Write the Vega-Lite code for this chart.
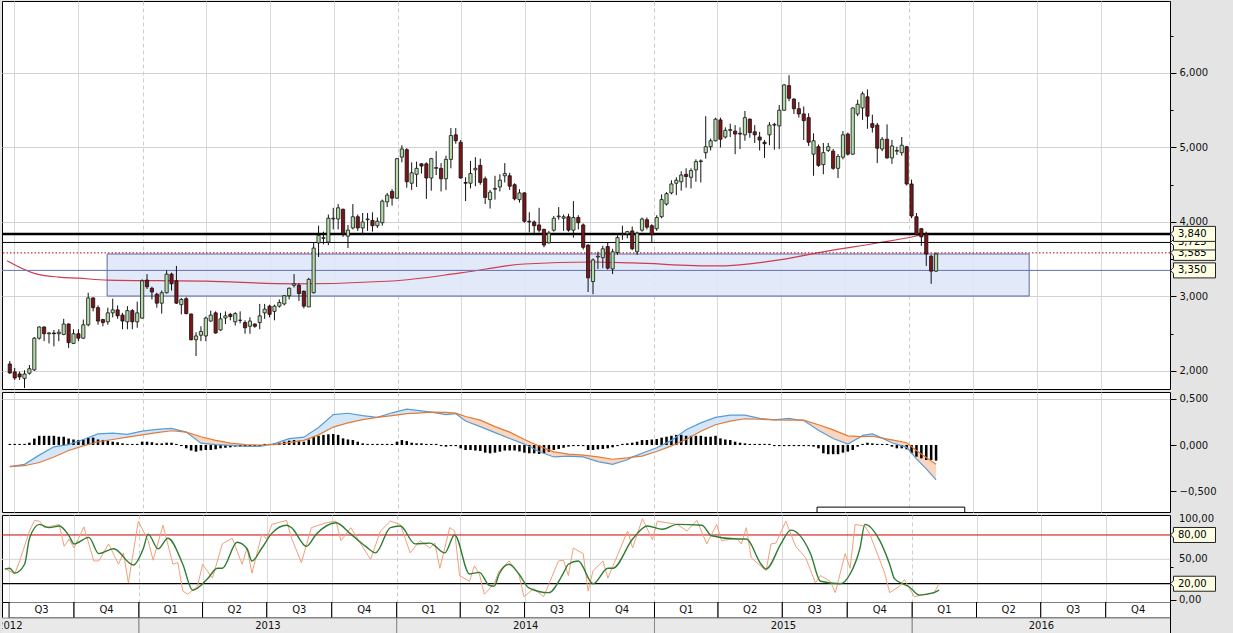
{
"$schema":"https://vega.github.io/schema/vega-lite/v6.json",
"background":"#e4e4e4",
"padding":{"left":0,"top":0,"right":19,"bottom":0},
"spacing":3,
"bounds":"flush",
"datasets":{
"candles":[
{"d":"2012-06-25","o":2.094,"h":2.135,"l":1.96,"c":1.973,"hist":0.012},
{"d":"2012-07-02","o":1.987,"h":2.04,"l":1.88,"c":1.906,"hist":0.012},
{"d":"2012-07-09","o":1.96,"h":1.99,"l":1.88,"c":1.92,"hist":0.012},
{"d":"2012-07-16","o":1.9,"h":2.01,"l":1.77,"c":1.96,"hist":0.012},
{"d":"2012-07-23","o":1.97,"h":2.08,"l":1.95,"c":2.03,"hist":0.025},
{"d":"2012-07-30","o":2.015,"h":2.455,"l":2.0,"c":2.44,"hist":0.07},
{"d":"2012-08-06","o":2.44,"h":2.6,"l":2.42,"c":2.59,"hist":0.1},
{"d":"2012-08-13","o":2.59,"h":2.6,"l":2.4,"c":2.5,"hist":0.1},
{"d":"2012-08-20","o":2.5,"h":2.52,"l":2.37,"c":2.51,"hist":0.1},
{"d":"2012-08-27","o":2.51,"h":2.55,"l":2.33,"c":2.5,"hist":0.1},
{"d":"2012-09-03","o":2.5,"h":2.56,"l":2.4,"c":2.52,"hist":0.09},
{"d":"2012-09-10","o":2.49,"h":2.7,"l":2.48,"c":2.63,"hist":0.09},
{"d":"2012-09-17","o":2.63,"h":2.64,"l":2.31,"c":2.38,"hist":0.07},
{"d":"2012-09-24","o":2.37,"h":2.56,"l":2.36,"c":2.5,"hist":0.06},
{"d":"2012-10-01","o":2.5,"h":2.56,"l":2.4,"c":2.44,"hist":0.055},
{"d":"2012-10-08","o":2.44,"h":2.69,"l":2.43,"c":2.62,"hist":0.06},
{"d":"2012-10-15","o":2.62,"h":3.05,"l":2.6,"c":2.98,"hist":0.08},
{"d":"2012-10-22","o":2.98,"h":2.99,"l":2.8,"c":2.85,"hist":0.08},
{"d":"2012-10-29","o":2.85,"h":2.88,"l":2.62,"c":2.67,"hist":0.06},
{"d":"2012-11-05","o":2.69,"h":2.7,"l":2.6,"c":2.65,"hist":0.055},
{"d":"2012-11-12","o":2.66,"h":2.85,"l":2.62,"c":2.78,"hist":0.047},
{"d":"2012-11-19","o":2.78,"h":2.97,"l":2.72,"c":2.82,"hist":0.036},
{"d":"2012-11-26","o":2.82,"h":2.88,"l":2.7,"c":2.74,"hist":0.03},
{"d":"2012-12-03","o":2.75,"h":2.78,"l":2.56,"c":2.67,"hist":0.018},
{"d":"2012-12-10","o":2.66,"h":2.87,"l":2.56,"c":2.81,"hist":0.012},
{"d":"2012-12-17","o":2.81,"h":2.83,"l":2.56,"c":2.66,"hist":0.012},
{"d":"2012-12-24","o":2.66,"h":2.93,"l":2.58,"c":2.78,"hist":0.012},
{"d":"2012-12-31","o":2.71,"h":3.23,"l":2.7,"c":3.21,"hist":0.036},
{"d":"2013-01-07","o":3.22,"h":3.3,"l":3.1,"c":3.13,"hist":0.036},
{"d":"2013-01-14","o":3.11,"h":3.13,"l":2.96,"c":3.06,"hist":0.03},
{"d":"2013-01-21","o":3.03,"h":3.05,"l":2.85,"c":2.91,"hist":0.018},
{"d":"2013-01-28","o":2.91,"h":3.08,"l":2.77,"c":3.05,"hist":0.018},
{"d":"2013-02-04","o":3.05,"h":3.35,"l":3.04,"c":3.3,"hist":0.025},
{"d":"2013-02-11","o":3.3,"h":3.32,"l":3.08,"c":3.17,"hist":0.025},
{"d":"2013-02-18","o":3.21,"h":3.41,"l":2.9,"c":2.91,"hist":0.012},
{"d":"2013-02-25","o":2.89,"h":2.98,"l":2.76,"c":2.96,"hist":-0.012},
{"d":"2013-03-04","o":2.97,"h":2.99,"l":2.76,"c":2.77,"hist":-0.036},
{"d":"2013-03-11","o":2.765,"h":2.77,"l":2.41,"c":2.42,"hist":-0.06},
{"d":"2013-03-18","o":2.42,"h":2.52,"l":2.2,"c":2.47,"hist":-0.072},
{"d":"2013-03-25","o":2.48,"h":2.6,"l":2.4,"c":2.53,"hist":-0.06},
{"d":"2013-04-01","o":2.47,"h":2.73,"l":2.4,"c":2.71,"hist":-0.054},
{"d":"2013-04-08","o":2.67,"h":2.81,"l":2.66,"c":2.75,"hist":-0.054},
{"d":"2013-04-15","o":2.78,"h":2.8,"l":2.5,"c":2.51,"hist":-0.047},
{"d":"2013-04-22","o":2.55,"h":2.78,"l":2.54,"c":2.7,"hist":-0.036},
{"d":"2013-04-29","o":2.71,"h":2.8,"l":2.63,"c":2.74,"hist":-0.03},
{"d":"2013-05-06","o":2.76,"h":2.78,"l":2.68,"c":2.73,"hist":-0.025},
{"d":"2013-05-13","o":2.66,"h":2.79,"l":2.61,"c":2.77,"hist":-0.018},
{"d":"2013-05-20","o":2.68,"h":2.8,"l":2.64,"c":2.68,"hist":-0.018},
{"d":"2013-05-27","o":2.65,"h":2.68,"l":2.5,"c":2.58,"hist":-0.018},
{"d":"2013-06-03","o":2.6,"h":2.72,"l":2.5,"c":2.67,"hist":-0.012},
{"d":"2013-06-10","o":2.63,"h":2.64,"l":2.58,"c":2.6,"hist":-0.012},
{"d":"2013-06-17","o":2.65,"h":2.9,"l":2.56,"c":2.74,"hist":-0.012},
{"d":"2013-06-24","o":2.78,"h":2.9,"l":2.7,"c":2.83,"hist":0.012},
{"d":"2013-07-01","o":2.87,"h":2.89,"l":2.72,"c":2.76,"hist":0.012},
{"d":"2013-07-08","o":2.8,"h":2.89,"l":2.68,"c":2.87,"hist":0.018},
{"d":"2013-07-15","o":2.87,"h":2.96,"l":2.85,"c":2.92,"hist":0.025},
{"d":"2013-07-22","o":2.9,"h":3.02,"l":2.88,"c":3.01,"hist":0.036},
{"d":"2013-07-29","o":3.01,"h":3.12,"l":2.96,"c":3.11,"hist":0.047},
{"d":"2013-08-05","o":3.15,"h":3.3,"l":3.12,"c":3.17,"hist":0.054},
{"d":"2013-08-12","o":3.15,"h":3.18,"l":2.94,"c":3.04,"hist":0.047},
{"d":"2013-08-19","o":3.07,"h":3.08,"l":2.84,"c":2.87,"hist":0.036},
{"d":"2013-08-26","o":2.86,"h":3.25,"l":2.86,"c":3.23,"hist":0.06},
{"d":"2013-09-02","o":3.05,"h":3.72,"l":3.04,"c":3.65,"hist":0.09},
{"d":"2013-09-09","o":3.72,"h":3.95,"l":3.53,"c":3.82,"hist":0.1},
{"d":"2013-09-16","o":3.78,"h":3.87,"l":3.7,"c":3.79,"hist":0.11},
{"d":"2013-09-23","o":3.73,"h":4.1,"l":3.69,"c":4.05,"hist":0.116},
{"d":"2013-09-30","o":4.04,"h":4.19,"l":3.9,"c":4.05,"hist":0.12},
{"d":"2013-10-07","o":4.04,"h":4.24,"l":3.9,"c":4.19,"hist":0.11},
{"d":"2013-10-14","o":4.17,"h":4.18,"l":3.8,"c":3.84,"hist":0.072},
{"d":"2013-10-21","o":3.81,"h":3.96,"l":3.65,"c":3.89,"hist":0.06},
{"d":"2013-10-28","o":3.92,"h":4.24,"l":3.9,"c":4.07,"hist":0.054},
{"d":"2013-11-04","o":4.07,"h":4.1,"l":3.88,"c":3.92,"hist":0.036},
{"d":"2013-11-11","o":3.92,"h":4.12,"l":3.85,"c":4.0,"hist":0.018},
{"d":"2013-11-18","o":4.03,"h":4.12,"l":3.88,"c":4.04,"hist":0.012},
{"d":"2013-11-25","o":4.02,"h":4.13,"l":3.87,"c":3.95,"hist":0.012},
{"d":"2013-12-02","o":3.95,"h":4.06,"l":3.92,"c":4.01,"hist":0.012},
{"d":"2013-12-09","o":3.99,"h":4.3,"l":3.95,"c":4.28,"hist":0.012},
{"d":"2013-12-16","o":4.27,"h":4.39,"l":4.2,"c":4.36,"hist":0.012},
{"d":"2013-12-23","o":4.41,"h":4.44,"l":4.22,"c":4.32,"hist":0.012},
{"d":"2013-12-30","o":4.32,"h":4.86,"l":4.31,"c":4.85,"hist":0.036},
{"d":"2014-01-06","o":4.87,"h":5.03,"l":4.8,"c":4.98,"hist":0.054},
{"d":"2014-01-13","o":4.97,"h":4.99,"l":4.46,"c":4.54,"hist":0.043},
{"d":"2014-01-20","o":4.52,"h":4.8,"l":4.43,"c":4.66,"hist":0.025},
{"d":"2014-01-27","o":4.64,"h":4.81,"l":4.47,"c":4.72,"hist":0.018},
{"d":"2014-02-03","o":4.78,"h":4.79,"l":4.65,"c":4.75,"hist":0.018},
{"d":"2014-02-10","o":4.78,"h":4.8,"l":4.31,"c":4.59,"hist":0.012},
{"d":"2014-02-17","o":4.59,"h":4.86,"l":4.42,"c":4.85,"hist":0.012},
{"d":"2014-02-24","o":4.72,"h":4.95,"l":4.63,"c":4.73,"hist":0.012},
{"d":"2014-03-03","o":4.72,"h":4.79,"l":4.41,"c":4.58,"hist":-0.012},
{"d":"2014-03-10","o":4.58,"h":4.89,"l":4.43,"c":4.84,"hist":-0.018},
{"d":"2014-03-17","o":4.84,"h":5.26,"l":4.72,"c":5.16,"hist":-0.012},
{"d":"2014-03-24","o":5.17,"h":5.26,"l":5.05,"c":5.09,"hist":-0.012},
{"d":"2014-03-31","o":5.07,"h":5.1,"l":4.58,"c":4.59,"hist":-0.036},
{"d":"2014-04-07","o":4.53,"h":4.6,"l":4.28,"c":4.52,"hist":-0.054},
{"d":"2014-04-14","o":4.52,"h":4.82,"l":4.45,"c":4.65,"hist":-0.054},
{"d":"2014-04-21","o":4.7,"h":4.87,"l":4.48,"c":4.72,"hist":-0.06},
{"d":"2014-04-28","o":4.76,"h":4.85,"l":4.5,"c":4.53,"hist":-0.065},
{"d":"2014-05-05","o":4.58,"h":4.61,"l":4.24,"c":4.33,"hist":-0.083},
{"d":"2014-05-12","o":4.3,"h":4.43,"l":4.18,"c":4.4,"hist":-0.09},
{"d":"2014-05-19","o":4.44,"h":4.62,"l":4.3,"c":4.45,"hist":-0.083},
{"d":"2014-05-26","o":4.47,"h":4.64,"l":4.41,"c":4.56,"hist":-0.072},
{"d":"2014-06-02","o":4.62,"h":4.79,"l":4.53,"c":4.65,"hist":-0.06},
{"d":"2014-06-09","o":4.62,"h":4.66,"l":4.43,"c":4.48,"hist":-0.06},
{"d":"2014-06-16","o":4.5,"h":4.52,"l":4.29,"c":4.31,"hist":-0.06},
{"d":"2014-06-23","o":4.3,"h":4.44,"l":4.26,"c":4.39,"hist":-0.07},
{"d":"2014-06-30","o":4.39,"h":4.4,"l":3.99,"c":4.01,"hist":-0.083},
{"d":"2014-07-07","o":4.01,"h":4.13,"l":3.86,"c":4.0,"hist":-0.09},
{"d":"2014-07-14","o":4.0,"h":4.02,"l":3.85,"c":3.95,"hist":-0.09},
{"d":"2014-07-21","o":3.96,"h":4.19,"l":3.86,"c":3.89,"hist":-0.098},
{"d":"2014-07-28","o":3.9,"h":3.91,"l":3.66,"c":3.69,"hist":-0.09},
{"d":"2014-08-04","o":3.72,"h":3.88,"l":3.71,"c":3.85,"hist":-0.072},
{"d":"2014-08-11","o":3.89,"h":4.08,"l":3.87,"c":4.05,"hist":-0.054},
{"d":"2014-08-18","o":4.07,"h":4.2,"l":4.03,"c":4.08,"hist":-0.043},
{"d":"2014-08-25","o":4.05,"h":4.1,"l":3.88,"c":4.07,"hist":-0.03},
{"d":"2014-09-01","o":4.07,"h":4.11,"l":3.87,"c":3.89,"hist":-0.018},
{"d":"2014-09-08","o":3.89,"h":4.28,"l":3.79,"c":4.06,"hist":-0.012},
{"d":"2014-09-15","o":4.06,"h":4.09,"l":3.9,"c":3.99,"hist":-0.012},
{"d":"2014-09-22","o":3.96,"h":3.98,"l":3.63,"c":3.66,"hist":-0.012},
{"d":"2014-09-29","o":3.69,"h":3.7,"l":3.06,"c":3.25,"hist":-0.054},
{"d":"2014-10-06","o":3.2,"h":3.51,"l":3.03,"c":3.49,"hist":-0.054},
{"d":"2014-10-13","o":3.53,"h":3.6,"l":3.37,"c":3.54,"hist":-0.047},
{"d":"2014-10-20","o":3.52,"h":3.68,"l":3.38,"c":3.64,"hist":-0.043},
{"d":"2014-10-27","o":3.67,"h":3.72,"l":3.36,"c":3.38,"hist":-0.036},
{"d":"2014-11-03","o":3.37,"h":3.64,"l":3.3,"c":3.6,"hist":-0.025},
{"d":"2014-11-10","o":3.59,"h":3.82,"l":3.56,"c":3.79,"hist":-0.012},
{"d":"2014-11-17","o":3.83,"h":3.95,"l":3.76,"c":3.84,"hist":0.012},
{"d":"2014-11-24","o":3.84,"h":3.88,"l":3.78,"c":3.87,"hist":0.018},
{"d":"2014-12-01","o":3.88,"h":3.94,"l":3.62,"c":3.64,"hist":0.025},
{"d":"2014-12-08","o":3.6,"h":3.87,"l":3.56,"c":3.85,"hist":0.036},
{"d":"2014-12-15","o":3.89,"h":4.06,"l":3.87,"c":4.04,"hist":0.054},
{"d":"2014-12-22","o":4.03,"h":4.06,"l":3.9,"c":3.93,"hist":0.054},
{"d":"2014-12-29","o":3.95,"h":3.97,"l":3.72,"c":3.83,"hist":0.06},
{"d":"2015-01-05","o":3.91,"h":4.09,"l":3.88,"c":4.06,"hist":0.065},
{"d":"2015-01-12","o":4.07,"h":4.37,"l":4.05,"c":4.3,"hist":0.08},
{"d":"2015-01-19","o":4.24,"h":4.4,"l":4.22,"c":4.38,"hist":0.09},
{"d":"2015-01-26","o":4.39,"h":4.56,"l":4.37,"c":4.51,"hist":0.1},
{"d":"2015-02-02","o":4.52,"h":4.6,"l":4.36,"c":4.56,"hist":0.11},
{"d":"2015-02-09","o":4.54,"h":4.68,"l":4.42,"c":4.63,"hist":0.11},
{"d":"2015-02-16","o":4.64,"h":4.72,"l":4.46,"c":4.61,"hist":0.1},
{"d":"2015-02-23","o":4.6,"h":4.72,"l":4.45,"c":4.69,"hist":0.1},
{"d":"2015-03-02","o":4.7,"h":4.84,"l":4.54,"c":4.81,"hist":0.1},
{"d":"2015-03-09","o":4.81,"h":4.84,"l":4.53,"c":4.82,"hist":0.1},
{"d":"2015-03-16","o":4.93,"h":5.42,"l":4.85,"c":5.01,"hist":0.09},
{"d":"2015-03-23","o":5.01,"h":5.12,"l":4.96,"c":5.09,"hist":0.09},
{"d":"2015-03-30","o":5.09,"h":5.4,"l":5.08,"c":5.38,"hist":0.1},
{"d":"2015-04-06","o":5.37,"h":5.4,"l":5.0,"c":5.11,"hist":0.072},
{"d":"2015-04-13","o":5.14,"h":5.27,"l":5.12,"c":5.23,"hist":0.06},
{"d":"2015-04-20","o":5.23,"h":5.32,"l":5.14,"c":5.24,"hist":0.054},
{"d":"2015-04-27","o":5.22,"h":5.3,"l":4.91,"c":5.18,"hist":0.036},
{"d":"2015-05-04","o":5.19,"h":5.27,"l":4.98,"c":5.18,"hist":0.025},
{"d":"2015-05-11","o":5.17,"h":5.49,"l":5.09,"c":5.4,"hist":0.018},
{"d":"2015-05-18","o":5.38,"h":5.39,"l":5.13,"c":5.2,"hist":0.012},
{"d":"2015-05-25","o":5.21,"h":5.3,"l":5.06,"c":5.17,"hist":0.012},
{"d":"2015-06-01","o":5.14,"h":5.21,"l":4.96,"c":5.1,"hist":0.012},
{"d":"2015-06-08","o":5.07,"h":5.1,"l":4.86,"c":5.05,"hist":0.012},
{"d":"2015-06-15","o":5.17,"h":5.34,"l":5.03,"c":5.3,"hist":0.012},
{"d":"2015-06-22","o":5.3,"h":5.33,"l":4.97,"c":5.31,"hist":-0.012},
{"d":"2015-06-29","o":5.29,"h":5.57,"l":4.98,"c":5.5,"hist":-0.012},
{"d":"2015-07-06","o":5.5,"h":5.85,"l":5.49,"c":5.84,"hist":-0.012},
{"d":"2015-07-13","o":5.83,"h":5.97,"l":5.62,"c":5.66,"hist":-0.012},
{"d":"2015-07-20","o":5.65,"h":5.66,"l":5.45,"c":5.52,"hist":-0.012},
{"d":"2015-07-27","o":5.52,"h":5.61,"l":5.4,"c":5.45,"hist":-0.012},
{"d":"2015-08-03","o":5.45,"h":5.55,"l":5.1,"c":5.36,"hist":-0.012},
{"d":"2015-08-10","o":5.4,"h":5.46,"l":5.02,"c":5.07,"hist":-0.012},
{"d":"2015-08-17","o":4.91,"h":5.19,"l":4.62,"c":5.09,"hist":-0.018},
{"d":"2015-08-24","o":5.01,"h":5.04,"l":4.74,"c":4.76,"hist":-0.036},
{"d":"2015-08-31","o":4.77,"h":5.06,"l":4.64,"c":4.93,"hist":-0.09},
{"d":"2015-09-07","o":4.96,"h":5.06,"l":4.94,"c":5.01,"hist":-0.1},
{"d":"2015-09-14","o":4.95,"h":4.98,"l":4.7,"c":4.72,"hist":-0.1},
{"d":"2015-09-21","o":4.72,"h":4.91,"l":4.59,"c":4.88,"hist":-0.1},
{"d":"2015-09-28","o":4.87,"h":5.22,"l":4.84,"c":5.17,"hist":-0.083},
{"d":"2015-10-05","o":5.18,"h":5.2,"l":4.89,"c":4.91,"hist":-0.072},
{"d":"2015-10-12","o":4.91,"h":5.54,"l":4.9,"c":5.53,"hist":-0.054},
{"d":"2015-10-19","o":5.45,"h":5.64,"l":5.42,"c":5.58,"hist":-0.018},
{"d":"2015-10-26","o":5.53,"h":5.75,"l":5.37,"c":5.72,"hist":0.012},
{"d":"2015-11-02","o":5.68,"h":5.78,"l":5.25,"c":5.42,"hist":0.025},
{"d":"2015-11-09","o":5.32,"h":5.44,"l":5.2,"c":5.27,"hist":0.018},
{"d":"2015-11-16","o":5.3,"h":5.33,"l":4.79,"c":4.99,"hist":0.012},
{"d":"2015-11-23","o":4.98,"h":5.14,"l":4.95,"c":5.11,"hist":0.012},
{"d":"2015-11-30","o":5.11,"h":5.31,"l":4.85,"c":4.86,"hist":0.012},
{"d":"2015-12-07","o":4.86,"h":5.1,"l":4.78,"c":5.02,"hist":-0.018},
{"d":"2015-12-14","o":4.95,"h":5.01,"l":4.9,"c":4.96,"hist":-0.036},
{"d":"2015-12-21","o":4.93,"h":5.14,"l":4.89,"c":5.03,"hist":-0.036},
{"d":"2015-12-28","o":5.01,"h":5.02,"l":4.49,"c":4.51,"hist":-0.047},
{"d":"2016-01-04","o":4.51,"h":4.57,"l":4.05,"c":4.08,"hist":-0.09},
{"d":"2016-01-11","o":4.07,"h":4.12,"l":3.82,"c":3.83,"hist":-0.127},
{"d":"2016-01-18","o":3.91,"h":3.92,"l":3.68,"c":3.8,"hist":-0.145},
{"d":"2016-01-25","o":3.84,"h":3.87,"l":3.41,"c":3.57,"hist":-0.163},
{"d":"2016-02-01","o":3.54,"h":3.56,"l":3.17,"c":3.34,"hist":-0.163},
{"d":"2016-02-08","o":3.34,"h":3.59,"l":3.33,"c":3.57,"hist":-0.17}
],
"ma":[
{"d":"2012-06-21","v":3.48},{"d":"2012-07-30","v":3.31},{"d":"2012-09-03","v":3.26},{"d":"2012-10-01","v":3.245},
{"d":"2012-11-12","v":3.22},{"d":"2013-04-01","v":3.205},{"d":"2013-08-05","v":3.17},{"d":"2013-12-23","v":3.208},
{"d":"2014-03-31","v":3.316},{"d":"2014-06-30","v":3.436},{"d":"2014-10-06","v":3.463},{"d":"2014-12-01","v":3.45},
{"d":"2015-03-30","v":3.41},{"d":"2015-06-29","v":3.49},{"d":"2015-09-07","v":3.611},{"d":"2015-11-16","v":3.718},
{"d":"2016-01-11","v":3.812},{"d":"2016-01-25","v":3.84}
],
"zone":[{"s":"2012-11-11","e":"2016-06-20","lo":3.006,"hi":3.57}],
"lv":[{"v":3.35,"label":"3,350"},{"v":3.585,"label":"3,585"},{"v":3.725,"label":"3,725"},{"v":3.84,"label":"3,840"}],
"slv":[{"v":20,"label":"20,00"},{"v":80,"label":"80,00"}],
"stl":[{"v":0,"label":"0,00"},{"v":50,"label":"50,00"},{"v":100,"label":"100,00"}],
"mbox":[{"s":"2015-08-22","e":"2016-03-20","lo":-0.9,"hi":-0.675}],
"macd":[
{"d":"2012-06-25","m":-0.235,"s":-0.235,"g":1,"c":"up"},
{"d":"2012-07-16","m":-0.21,"s":-0.225,"g":1,"c":"up"},
{"d":"2012-08-06","m":-0.11,"s":-0.19,"g":1,"c":"up"},
{"d":"2012-08-27","m":-0.02,"s":-0.13,"g":1,"c":"up"},
{"d":"2012-09-17","m":0.005,"s":-0.06,"g":1,"c":"up"},
{"d":"2012-10-08","m":0.06,"s":-0.01,"g":1,"c":"up"},
{"d":"2012-10-29","m":0.12,"s":0.035,"g":1,"c":"up"},
{"d":"2012-11-19","m":0.13,"s":0.06,"g":1,"c":"up"},
{"d":"2012-12-10","m":0.115,"s":0.085,"g":1,"c":"up"},
{"d":"2012-12-31","m":0.15,"s":0.11,"g":1,"c":"up"},
{"d":"2013-01-21","m":0.17,"s":0.135,"g":1,"c":"up"},
{"d":"2013-02-11","m":0.18,"s":0.155,"g":1,"c":"up"},
{"d":"2013-03-04","m":0.14,"s":0.14,"g":1,"c":"up"},
{"d":"2013-03-04","m":0.14,"s":0.14,"g":2,"c":"dn"},
{"d":"2013-03-25","m":0.02,"s":0.09,"g":2,"c":"dn"},
{"d":"2013-04-15","m":0.005,"s":0.05,"g":2,"c":"dn"},
{"d":"2013-05-06","m":-0.005,"s":0.02,"g":2,"c":"dn"},
{"d":"2013-05-27","m":-0.015,"s":0.005,"g":2,"c":"dn"},
{"d":"2013-06-17","m":-0.015,"s":0.0,"g":2,"c":"dn"},
{"d":"2013-07-01","m":0.003,"s":0.003,"g":2,"c":"dn"},
{"d":"2013-07-01","m":0.003,"s":0.003,"g":3,"c":"up"},
{"d":"2013-07-08","m":0.015,"s":0.005,"g":3,"c":"up"},
{"d":"2013-07-29","m":0.07,"s":0.025,"g":3,"c":"up"},
{"d":"2013-08-19","m":0.085,"s":0.05,"g":3,"c":"up"},
{"d":"2013-09-09","m":0.19,"s":0.11,"g":3,"c":"up"},
{"d":"2013-09-30","m":0.33,"s":0.195,"g":3,"c":"up"},
{"d":"2013-10-21","m":0.345,"s":0.24,"g":3,"c":"up"},
{"d":"2013-11-11","m":0.32,"s":0.275,"g":3,"c":"up"},
{"d":"2013-12-02","m":0.3,"s":0.3,"g":3,"c":"up"},
{"d":"2013-12-23","m":0.35,"s":0.32,"g":3,"c":"up"},
{"d":"2014-01-13","m":0.39,"s":0.34,"g":3,"c":"up"},
{"d":"2014-02-03","m":0.37,"s":0.35,"g":3,"c":"up"},
{"d":"2014-02-17","m":0.357,"s":0.357,"g":3,"c":"up"},
{"d":"2014-02-17","m":0.357,"s":0.357,"g":4,"c":"dn"},
{"d":"2014-03-10","m":0.33,"s":0.355,"g":4,"c":"dn"},
{"d":"2014-03-24","m":0.34,"s":0.347,"g":4,"c":"dn"},
{"d":"2014-04-07","m":0.26,"s":0.31,"g":4,"c":"dn"},
{"d":"2014-04-28","m":0.2,"s":0.27,"g":4,"c":"dn"},
{"d":"2014-05-19","m":0.135,"s":0.2,"g":4,"c":"dn"},
{"d":"2014-06-09","m":0.07,"s":0.14,"g":4,"c":"dn"},
{"d":"2014-06-30","m":0.01,"s":0.06,"g":4,"c":"dn"},
{"d":"2014-07-21","m":-0.07,"s":-0.01,"g":4,"c":"dn"},
{"d":"2014-08-11","m":-0.13,"s":-0.075,"g":4,"c":"dn"},
{"d":"2014-09-01","m":-0.12,"s":-0.1,"g":4,"c":"dn"},
{"d":"2014-09-22","m":-0.13,"s":-0.11,"g":4,"c":"dn"},
{"d":"2014-10-13","m":-0.18,"s":-0.13,"g":4,"c":"dn"},
{"d":"2014-11-03","m":-0.21,"s":-0.155,"g":4,"c":"dn"},
{"d":"2014-11-24","m":-0.16,"s":-0.14,"g":4,"c":"dn"},
{"d":"2014-12-01","m":-0.132,"s":-0.132,"g":4,"c":"dn"},
{"d":"2014-12-01","m":-0.132,"s":-0.132,"g":5,"c":"up"},
{"d":"2014-12-15","m":-0.09,"s":-0.12,"g":5,"c":"up"},
{"d":"2015-01-05","m":-0.03,"s":-0.07,"g":5,"c":"up"},
{"d":"2015-01-26","m":0.05,"s":-0.01,"g":5,"c":"up"},
{"d":"2015-02-16","m":0.165,"s":0.06,"g":5,"c":"up"},
{"d":"2015-03-09","m":0.24,"s":0.15,"g":5,"c":"up"},
{"d":"2015-03-30","m":0.3,"s":0.22,"g":5,"c":"up"},
{"d":"2015-04-20","m":0.325,"s":0.26,"g":5,"c":"up"},
{"d":"2015-05-11","m":0.325,"s":0.285,"g":5,"c":"up"},
{"d":"2015-06-01","m":0.29,"s":0.28,"g":5,"c":"up"},
{"d":"2015-06-22","m":0.273,"s":0.273,"g":5,"c":"up"},
{"d":"2015-07-13","m":0.29,"s":0.27,"g":5,"c":"up"},
{"d":"2015-07-27","m":0.272,"s":0.272,"g":5,"c":"up"},
{"d":"2015-07-27","m":0.272,"s":0.272,"g":6,"c":"dn"},
{"d":"2015-08-03","m":0.265,"s":0.27,"g":6,"c":"dn"},
{"d":"2015-08-24","m":0.16,"s":0.22,"g":6,"c":"dn"},
{"d":"2015-09-14","m":0.07,"s":0.165,"g":6,"c":"dn"},
{"d":"2015-10-05","m":0.01,"s":0.1,"g":6,"c":"dn"},
{"d":"2015-10-24","m":0.092,"s":0.092,"g":6,"c":"dn"},
{"d":"2015-10-24","m":0.092,"s":0.092,"g":7,"c":"up"},
{"d":"2015-10-26","m":0.105,"s":0.092,"g":7,"c":"up"},
{"d":"2015-11-09","m":0.12,"s":0.095,"g":7,"c":"up"},
{"d":"2015-11-23","m":0.075,"s":0.075,"g":7,"c":"up"},
{"d":"2015-11-23","m":0.075,"s":0.075,"g":8,"c":"dn"},
{"d":"2015-12-07","m":0.025,"s":0.055,"g":8,"c":"dn"},
{"d":"2015-12-28","m":-0.025,"s":0.025,"g":8,"c":"dn"},
{"d":"2016-01-11","m":-0.15,"s":-0.06,"g":8,"c":"dn"},
{"d":"2016-01-25","m":-0.26,"s":-0.135,"g":8,"c":"dn"},
{"d":"2016-02-08","m":-0.38,"s":-0.21,"g":8,"c":"dn"}
],
"stK":[
{"d":"2012-06-25","v":39},{"d":"2012-07-09","v":32},{"d":"2012-07-16","v":48},{"d":"2012-07-30","v":85},{"d":"2012-08-06","v":98},
{"d":"2012-08-13","v":97},{"d":"2012-08-20","v":89},{"d":"2012-09-10","v":93},{"d":"2012-09-17","v":66},{"d":"2012-09-24","v":75},
{"d":"2012-10-01","v":64},{"d":"2012-10-15","v":90},{"d":"2012-10-29","v":48},{"d":"2012-11-05","v":48},{"d":"2012-11-19","v":69},
{"d":"2012-12-03","v":44},{"d":"2012-12-10","v":58},{"d":"2012-12-17","v":21},{"d":"2012-12-31","v":97},{"d":"2013-01-14","v":73},
{"d":"2013-01-21","v":49},{"d":"2013-02-04","v":92},{"d":"2013-02-18","v":44},{"d":"2013-02-25","v":46},{"d":"2013-03-04","v":11},
{"d":"2013-03-11","v":7},{"d":"2013-03-25","v":17},{"d":"2013-04-01","v":44},{"d":"2013-04-15","v":27},{"d":"2013-04-29","v":69},
{"d":"2013-05-13","v":76},{"d":"2013-05-27","v":44},{"d":"2013-06-03","v":64},{"d":"2013-06-10","v":33},{"d":"2013-06-24","v":81},
{"d":"2013-07-01","v":75},{"d":"2013-07-08","v":93},{"d":"2013-07-29","v":98},{"d":"2013-08-05","v":76},{"d":"2013-08-19","v":46},
{"d":"2013-09-02","v":89},{"d":"2013-09-23","v":95},{"d":"2013-10-07","v":97},{"d":"2013-10-14","v":73},{"d":"2013-10-28","v":89},
{"d":"2013-11-11","v":69},{"d":"2013-11-25","v":50},{"d":"2013-12-09","v":85},{"d":"2013-12-23","v":97},{"d":"2014-01-06","v":93},
{"d":"2014-01-20","v":58},{"d":"2014-02-03","v":73},{"d":"2014-02-17","v":64},{"d":"2014-02-24","v":70},{"d":"2014-03-03","v":39},
{"d":"2014-03-17","v":89},{"d":"2014-03-24","v":85},{"d":"2014-03-31","v":30},{"d":"2014-04-14","v":23},{"d":"2014-04-21","v":42},
{"d":"2014-04-28","v":32},{"d":"2014-05-05","v":7},{"d":"2014-05-19","v":20},{"d":"2014-05-26","v":36},{"d":"2014-06-09","v":48},
{"d":"2014-06-23","v":32},{"d":"2014-06-30","v":4},{"d":"2014-07-14","v":14},{"d":"2014-07-28","v":4},{"d":"2014-08-18","v":48},
{"d":"2014-08-25","v":49},{"d":"2014-09-01","v":30},{"d":"2014-09-08","v":64},{"d":"2014-09-22","v":57},{"d":"2014-09-29","v":11},
{"d":"2014-10-06","v":36},{"d":"2014-10-20","v":48},{"d":"2014-10-27","v":27},{"d":"2014-11-24","v":85},{"d":"2014-12-01","v":64},
{"d":"2014-12-15","v":100},{"d":"2014-12-29","v":74},{"d":"2015-01-05","v":97},{"d":"2015-02-02","v":93},{"d":"2015-02-16","v":85},
{"d":"2015-03-02","v":98},{"d":"2015-03-16","v":69},{"d":"2015-03-30","v":93},{"d":"2015-04-06","v":73},{"d":"2015-04-27","v":76},
{"d":"2015-05-04","v":69},{"d":"2015-05-11","v":89},{"d":"2015-05-18","v":52},{"d":"2015-06-08","v":36},{"d":"2015-06-15","v":69},
{"d":"2015-06-22","v":70},{"d":"2015-07-06","v":97},{"d":"2015-07-20","v":66},{"d":"2015-08-03","v":52},{"d":"2015-08-17","v":21},
{"d":"2015-08-24","v":30},{"d":"2015-09-07","v":23},{"d":"2015-09-14","v":9},{"d":"2015-09-28","v":57},{"d":"2015-10-05","v":39},
{"d":"2015-10-12","v":93},{"d":"2015-10-26","v":91},{"d":"2015-11-02","v":81},{"d":"2015-11-23","v":33},{"d":"2015-11-30","v":9},
{"d":"2015-12-14","v":17},{"d":"2015-12-21","v":25},{"d":"2016-01-04","v":4},{"d":"2016-01-18","v":7},{"d":"2016-02-01","v":9},
{"d":"2016-02-08","v":20}
],
"stD":[
{"d":"2012-06-25","v":38},{"d":"2012-07-02","v":39},{"d":"2012-07-09","v":33},{"d":"2012-07-23","v":44},{"d":"2012-07-30","v":76},
{"d":"2012-08-13","v":93},{"d":"2012-08-27","v":89},{"d":"2012-09-10","v":91},{"d":"2012-09-24","v":79},{"d":"2012-10-01","v":69},
{"d":"2012-10-22","v":77},{"d":"2012-11-05","v":57},{"d":"2012-11-26","v":63},{"d":"2012-12-24","v":43},{"d":"2013-01-07","v":63},
{"d":"2013-01-14","v":81},{"d":"2013-01-28","v":63},{"d":"2013-02-11","v":76},{"d":"2013-03-04","v":44},{"d":"2013-03-18","v":12},
{"d":"2013-04-08","v":26},{"d":"2013-04-22","v":39},{"d":"2013-04-29","v":39},{"d":"2013-05-20","v":71},{"d":"2013-06-03","v":63},
{"d":"2013-06-10","v":48},{"d":"2013-06-24","v":64},{"d":"2013-07-08","v":82},{"d":"2013-07-29","v":92},{"d":"2013-08-05","v":89},
{"d":"2013-08-26","v":66},{"d":"2013-09-09","v":81},{"d":"2013-10-07","v":95},{"d":"2013-10-28","v":81},{"d":"2013-11-18","v":66},
{"d":"2013-12-02","v":58},{"d":"2013-12-23","v":89},{"d":"2014-01-06","v":91},{"d":"2014-01-27","v":69},{"d":"2014-02-17","v":70},
{"d":"2014-03-10","v":58},{"d":"2014-03-24","v":80},{"d":"2014-04-14","v":32},{"d":"2014-04-28","v":34},{"d":"2014-05-12","v":18},
{"d":"2014-05-19","v":17},{"d":"2014-05-26","v":32},{"d":"2014-06-09","v":44},{"d":"2014-06-23","v":32},{"d":"2014-07-07","v":15},
{"d":"2014-08-04","v":9},{"d":"2014-08-25","v":33},{"d":"2014-09-01","v":44},{"d":"2014-09-15","v":48},{"d":"2014-10-06","v":20},
{"d":"2014-10-27","v":39},{"d":"2014-11-03","v":39},{"d":"2014-12-01","v":75},{"d":"2014-12-22","v":91},{"d":"2015-01-12","v":87},
{"d":"2015-02-02","v":93},{"d":"2015-03-09","v":92},{"d":"2015-03-23","v":79},{"d":"2015-04-27","v":75},{"d":"2015-05-11","v":75},
{"d":"2015-06-01","v":44},{"d":"2015-06-08","v":38},{"d":"2015-06-29","v":69},{"d":"2015-07-13","v":86},{"d":"2015-08-10","v":57},
{"d":"2015-08-24","v":23},{"d":"2015-09-21","v":20},{"d":"2015-10-05","v":32},{"d":"2015-10-19","v":64},{"d":"2015-10-26","v":93},
{"d":"2015-11-16","v":73},{"d":"2015-11-30","v":44},{"d":"2015-12-07","v":26},{"d":"2015-12-28","v":16},{"d":"2016-01-11","v":6},
{"d":"2016-02-01","v":9},{"d":"2016-02-08","v":12}
],
"tl":[
{"s":"2012-07-01","e":"2012-10-01","t":"Q3","r":"q"},{"s":"2012-10-01","e":"2013-01-01","t":"Q4","r":"q"},
{"s":"2013-01-01","e":"2013-04-01","t":"Q1","r":"q"},{"s":"2013-04-01","e":"2013-07-01","t":"Q2","r":"q"},{"s":"2013-07-01","e":"2013-10-01","t":"Q3","r":"q"},{"s":"2013-10-01","e":"2014-01-01","t":"Q4","r":"q"},
{"s":"2014-01-01","e":"2014-04-01","t":"Q1","r":"q"},{"s":"2014-04-01","e":"2014-07-01","t":"Q2","r":"q"},{"s":"2014-07-01","e":"2014-10-01","t":"Q3","r":"q"},{"s":"2014-10-01","e":"2015-01-01","t":"Q4","r":"q"},
{"s":"2015-01-01","e":"2015-04-01","t":"Q1","r":"q"},{"s":"2015-04-01","e":"2015-07-01","t":"Q2","r":"q"},{"s":"2015-07-01","e":"2015-10-01","t":"Q3","r":"q"},{"s":"2015-10-01","e":"2016-01-01","t":"Q4","r":"q"},
{"s":"2016-01-01","e":"2016-04-01","t":"Q1","r":"q"},{"s":"2016-04-01","e":"2016-07-01","t":"Q2","r":"q"},{"s":"2016-07-01","e":"2016-10-01","t":"Q3","r":"q"},{"s":"2016-10-01","e":"2017-01-01","t":"Q4","r":"q"},
{"s":"2012-01-01","e":"2013-01-01","t":"2012","r":"y"},{"s":"2013-01-01","e":"2014-01-01","t":"2013","r":"y"},{"s":"2014-01-01","e":"2015-01-01","t":"2014","r":"y"},
{"s":"2015-01-01","e":"2016-01-01","t":"2015","r":"y"},{"s":"2016-01-01","e":"2017-01-01","t":"2016","r":"y"}
]
},
"resolve":{"scale":{"x":"independent","y":"independent","color":"independent","fill":"independent"}},
"vconcat":[
{
"width":1168,"height":388,
"layer":[
{"data":{"name":"zone"},"mark":{"type":"rect","fill":"#dde5f8","fillOpacity":0.85,"stroke":"#5a68a8","strokeWidth":1,"clip":true},
 "encoding":{
  "x":{"field":"s","type":"temporal","title":null,"scale":{"type":"utc","domain":[{"year":2012,"month":6,"date":21,"utc":true},{"year":2016,"month":12,"date":31,"utc":true}]},
   "axis":{"title":null,"labels":false,"ticks":false,"domain":false,"grid":true,"gridColor":"#cdcdcd",
    "gridDash":{"condition":{"test":"utcmonth(datum.value) == 0","value":[4,3]},"value":[1,0]},
    "values":[{"year":2012,"month":7,"date":1,"utc":true},{"year":2012,"month":10,"date":1,"utc":true},{"year":2013,"month":1,"date":1,"utc":true},{"year":2013,"month":4,"date":1,"utc":true},{"year":2013,"month":7,"date":1,"utc":true},{"year":2013,"month":10,"date":1,"utc":true},{"year":2014,"month":1,"date":1,"utc":true},{"year":2014,"month":4,"date":1,"utc":true},{"year":2014,"month":7,"date":1,"utc":true},{"year":2014,"month":10,"date":1,"utc":true},{"year":2015,"month":1,"date":1,"utc":true},{"year":2015,"month":4,"date":1,"utc":true},{"year":2015,"month":7,"date":1,"utc":true},{"year":2015,"month":10,"date":1,"utc":true},{"year":2016,"month":1,"date":1,"utc":true},{"year":2016,"month":4,"date":1,"utc":true},{"year":2016,"month":7,"date":1,"utc":true},{"year":2016,"month":10,"date":1,"utc":true}]}},
  "x2":{"field":"e"},
  "y":{"field":"lo","type":"quantitative","title":null,"scale":{"domain":[1.758,6.966],"nice":false,"zero":false},
   "axis":{"orient":"right","title":null,"values":[2,2.5,3,3.5,4,4.5,5,5.5,6,6.5],"labelOverlap":false,
    "labelExpr":"datum.value % 1 == 0 ? replace(format(datum.value, '.3f'), '.', ',') : ''",
    "tickSize":{"condition":{"test":"datum.value % 1 == 0","value":6},"value":3},
    "grid":true,"gridColor":"#d2d2d2",
    "gridOpacity":{"condition":{"test":"datum.value % 1 == 0","value":1},"value":0},
    "labelPadding":3}},
  "y2":{"field":"hi"}}},
{"data":{"name":"ma"},"mark":{"type":"line","color":"#cc3d4f","strokeWidth":1.2,"interpolate":"monotone","clip":true},
 "encoding":{"x":{"field":"d","type":"temporal"},"y":{"field":"v","type":"quantitative"}}},
{"data":{"name":"lv"},"transform":[{"filter":"datum.label == '3,350'"}],"mark":{"type":"rule","color":"#6470b0","strokeWidth":1},"encoding":{"y":{"field":"v","type":"quantitative"}}},
{"data":{"name":"lv"},"transform":[{"filter":"datum.label == '3,585'"}],"mark":{"type":"rule","color":"#c00000","strokeWidth":1,"strokeDash":[1.5,2]},"encoding":{"y":{"field":"v","type":"quantitative"}}},
{"data":{"name":"lv"},"transform":[{"filter":"datum.label == '3,725'"}],"mark":{"type":"rule","color":"#000","strokeWidth":1},"encoding":{"y":{"field":"v","type":"quantitative"}}},
{"data":{"name":"lv"},"transform":[{"filter":"datum.label == '3,840'"}],"mark":{"type":"rule","color":"#000","strokeWidth":2.5},"encoding":{"y":{"field":"v","type":"quantitative"}}},
{"data":{"name":"candles"},"mark":{"type":"rule","color":"#111","strokeWidth":1,"clip":true},
 "encoding":{"x":{"field":"d","type":"temporal"},"y":{"field":"l","type":"quantitative"},"y2":{"field":"h"}}},
{"data":{"name":"candles"},"mark":{"type":"bar","width":3.2,"stroke":"#111","strokeWidth":0.8,"clip":true},
 "encoding":{"x":{"field":"d","type":"temporal"},"y":{"field":"o","type":"quantitative"},"y2":{"field":"c"},
  "fill":{"condition":{"test":"datum.c >= datum.o","value":"#b4ddaa"},"value":"#7d1518"}}},
{"data":{"name":"lv"},"transform":[{"filter":"datum.label == '3,350'"}],"mark":{"type":"point","shape":"M0.05,0 L0.35,-0.3 L0.35,-0.75 L4.55,-0.75 L4.55,0.75 L0.35,0.75 L0.35,0.3 Z","size":400,"filled":true,"fill":"#ffffe4","stroke":"#222","strokeWidth":1,"opacity":1,"clip":false},"encoding":{"x":{"value":"width"},"y":{"field":"v","type":"quantitative"}}},
{"data":{"name":"lv"},"transform":[{"filter":"datum.label == '3,350'"}],"mark":{"type":"text","align":"left","baseline":"middle","dx":8,"fontSize":10,"font":"DejaVu Sans","color":"#000","clip":false},"encoding":{"x":{"value":"width"},"y":{"field":"v","type":"quantitative"},"text":{"field":"label"}}},
{"data":{"name":"lv"},"transform":[{"filter":"datum.label == '3,585'"}],"mark":{"type":"point","shape":"M0.05,0 L0.35,-0.3 L0.35,-0.75 L4.55,-0.75 L4.55,0.75 L0.35,0.75 L0.35,0.3 Z","size":400,"filled":true,"fill":"#ffffe4","stroke":"#222","strokeWidth":1,"opacity":1,"clip":false},"encoding":{"x":{"value":"width"},"y":{"field":"v","type":"quantitative"}}},
{"data":{"name":"lv"},"transform":[{"filter":"datum.label == '3,585'"}],"mark":{"type":"text","align":"left","baseline":"middle","dx":8,"fontSize":10,"font":"DejaVu Sans","color":"#000","clip":false},"encoding":{"x":{"value":"width"},"y":{"field":"v","type":"quantitative"},"text":{"field":"label"}}},
{"data":{"name":"lv"},"transform":[{"filter":"datum.label == '3,725'"}],"mark":{"type":"point","shape":"M0.05,0 L0.35,-0.3 L0.35,-0.75 L4.55,-0.75 L4.55,0.75 L0.35,0.75 L0.35,0.3 Z","size":400,"filled":true,"fill":"#ffffe4","stroke":"#222","strokeWidth":1,"opacity":1,"clip":false},"encoding":{"x":{"value":"width"},"y":{"field":"v","type":"quantitative"}}},
{"data":{"name":"lv"},"transform":[{"filter":"datum.label == '3,725'"}],"mark":{"type":"text","align":"left","baseline":"middle","dx":8,"fontSize":10,"font":"DejaVu Sans","color":"#000","clip":false},"encoding":{"x":{"value":"width"},"y":{"field":"v","type":"quantitative"},"text":{"field":"label"}}},
{"data":{"name":"lv"},"transform":[{"filter":"datum.label == '3,840'"}],"mark":{"type":"point","shape":"M0.05,0 L0.35,-0.3 L0.35,-0.75 L4.55,-0.75 L4.55,0.75 L0.35,0.75 L0.35,0.3 Z","size":400,"filled":true,"fill":"#ffffe4","stroke":"#222","strokeWidth":1,"opacity":1,"clip":false},"encoding":{"x":{"value":"width"},"y":{"field":"v","type":"quantitative"}}},
{"data":{"name":"lv"},"transform":[{"filter":"datum.label == '3,840'"}],"mark":{"type":"text","align":"left","baseline":"middle","dx":8,"fontSize":10,"font":"DejaVu Sans","color":"#000","clip":false},"encoding":{"x":{"value":"width"},"y":{"field":"v","type":"quantitative"},"text":{"field":"label"}}}
]
},
{
"width":1168,"height":120,
"layer":[
{"data":{"name":"macd"},"mark":{"type":"area","clip":true},
 "encoding":{
  "x":{"field":"d","type":"temporal","title":null,"scale":{"type":"utc","domain":[{"year":2012,"month":6,"date":21,"utc":true},{"year":2016,"month":12,"date":31,"utc":true}]},
   "axis":{"title":null,"labels":false,"ticks":false,"domain":false,"grid":true,"gridColor":"#cdcdcd",
    "gridDash":{"condition":{"test":"utcmonth(datum.value) == 0","value":[4,3]},"value":[1,0]},
    "values":[{"year":2012,"month":7,"date":1,"utc":true},{"year":2012,"month":10,"date":1,"utc":true},{"year":2013,"month":1,"date":1,"utc":true},{"year":2013,"month":4,"date":1,"utc":true},{"year":2013,"month":7,"date":1,"utc":true},{"year":2013,"month":10,"date":1,"utc":true},{"year":2014,"month":1,"date":1,"utc":true},{"year":2014,"month":4,"date":1,"utc":true},{"year":2014,"month":7,"date":1,"utc":true},{"year":2014,"month":10,"date":1,"utc":true},{"year":2015,"month":1,"date":1,"utc":true},{"year":2015,"month":4,"date":1,"utc":true},{"year":2015,"month":7,"date":1,"utc":true},{"year":2015,"month":10,"date":1,"utc":true},{"year":2016,"month":1,"date":1,"utc":true},{"year":2016,"month":4,"date":1,"utc":true},{"year":2016,"month":7,"date":1,"utc":true},{"year":2016,"month":10,"date":1,"utc":true}]}},
  "y":{"field":"m","type":"quantitative","title":null,"scale":{"domain":[-0.728,0.576],"nice":false,"zero":false},
   "axis":{"orient":"right","title":null,"values":[-0.5,-0.25,0,0.25,0.5],"labelOverlap":false,
    "labelExpr":"abs(datum.value*2 - round(datum.value*2)) < 0.001 ? replace(format(datum.value, '.3f'), '.', ',') : ''",
    "tickSize":{"condition":{"test":"abs(datum.value*2 - round(datum.value*2)) < 0.001","value":6},"value":3},
    "grid":true,"gridColor":"#d2d2d2",
    "gridOpacity":{"condition":{"test":"datum.value == 0.5 || datum.value == -0.25","value":1},"value":0},
    "labelPadding":3}},
  "y2":{"field":"s"},
  "color":{"field":"c","type":"nominal","scale":{"domain":["up","dn"],"range":["#d3e7f8","#fad6bf"]},"legend":null},
  "detail":{"field":"g","type":"nominal"}}},
{"data":{"name":"candles"},"mark":{"type":"bar","width":2.5,"color":"#000","clip":true},
 "encoding":{"x":{"field":"d","type":"temporal"},"y":{"field":"hist","type":"quantitative"},"y2":{"datum":0}}},
{"data":{"name":"mbox"},"mark":{"type":"rect","fill":"#ffffff","stroke":"#000","strokeWidth":1,"clip":true},
 "encoding":{"x":{"field":"s","type":"temporal"},"x2":{"field":"e"},"y":{"field":"lo","type":"quantitative"},"y2":{"field":"hi"}}},
{"data":{"name":"macd"},"mark":{"type":"line","color":"#5b9bd5","strokeWidth":1.2,"clip":true},
 "encoding":{"x":{"field":"d","type":"temporal"},"y":{"field":"m","type":"quantitative"}}},
{"data":{"name":"macd"},"mark":{"type":"line","color":"#e07b39","strokeWidth":1.2,"clip":true},
 "encoding":{"x":{"field":"d","type":"temporal"},"y":{"field":"s","type":"quantitative"}}}
]
},
{
"spacing":0,
"bounds":"flush",
"resolve":{"scale":{"x":"independent","y":"independent","color":"independent","fill":"independent"}},
"vconcat":[
{
"width":1168,"height":87,
"layer":[
{"data":{"name":"stl"},"transform":[{"filter":"datum.v == 50"}],"mark":{"type":"rule","color":"#d2d2d2","strokeWidth":1},
 "encoding":{
  "x":{"datum":{"year":2012,"month":6,"date":21,"utc":true},"type":"temporal","scale":{"type":"utc","domain":[{"year":2012,"month":6,"date":21,"utc":true},{"year":2016,"month":12,"date":31,"utc":true}]},
   "axis":{"title":null,"labels":false,"ticks":false,"domain":false,"grid":true,"gridColor":"#cdcdcd",
    "gridDash":{"condition":{"test":"utcmonth(datum.value) == 0","value":[4,3]},"value":[1,0]},
    "values":[{"year":2012,"month":7,"date":1,"utc":true},{"year":2012,"month":10,"date":1,"utc":true},{"year":2013,"month":1,"date":1,"utc":true},{"year":2013,"month":4,"date":1,"utc":true},{"year":2013,"month":7,"date":1,"utc":true},{"year":2013,"month":10,"date":1,"utc":true},{"year":2014,"month":1,"date":1,"utc":true},{"year":2014,"month":4,"date":1,"utc":true},{"year":2014,"month":7,"date":1,"utc":true},{"year":2014,"month":10,"date":1,"utc":true},{"year":2015,"month":1,"date":1,"utc":true},{"year":2015,"month":4,"date":1,"utc":true},{"year":2015,"month":7,"date":1,"utc":true},{"year":2015,"month":10,"date":1,"utc":true},{"year":2016,"month":1,"date":1,"utc":true},{"year":2016,"month":4,"date":1,"utc":true},{"year":2016,"month":7,"date":1,"utc":true},{"year":2016,"month":10,"date":1,"utc":true}]}},
  "x2":{"datum":{"year":2016,"month":12,"date":31,"utc":true}},
  "y":{"field":"v","type":"quantitative","title":null,"scale":{"domain":[-2.5,104.6],"nice":false,"zero":false},
   "axis":{"orient":"right","title":null,"values":[0,10,20,30,40,50,60,70,80,90,100],"labels":false,
    "tickSize":{"condition":{"test":"datum.value == 0 || datum.value == 50 || datum.value == 100","value":6},"value":3},
    "grid":false}}}},
{"data":{"name":"slv"},"transform":[{"filter":"datum.label == '80,00'"}],"mark":{"type":"rule","color":"#cc0000","strokeWidth":1},"encoding":{"y":{"field":"v","type":"quantitative"}}},
{"data":{"name":"slv"},"transform":[{"filter":"datum.label == '20,00'"}],"mark":{"type":"rule","color":"#000","strokeWidth":1.2},"encoding":{"y":{"field":"v","type":"quantitative"}}},
{"data":{"name":"stK"},"mark":{"type":"line","color":"#f0a07a","strokeWidth":1,"clip":true},
 "encoding":{"x":{"field":"d","type":"temporal"},"y":{"field":"v","type":"quantitative"}}},
{"data":{"name":"stD"},"mark":{"type":"line","color":"#2e7d32","strokeWidth":1.4,"interpolate":"monotone","clip":true},
 "encoding":{"x":{"field":"d","type":"temporal"},"y":{"field":"v","type":"quantitative"}}},
{"data":{"name":"stl"},"mark":{"type":"text","align":"left","baseline":"middle","dx":9,"fontSize":10,"font":"DejaVu Sans","color":"#111","clip":false},
 "encoding":{"x":{"value":"width"},"y":{"field":"v","type":"quantitative"},"text":{"field":"label"}}},
{"data":{"name":"slv"},"mark":{"type":"point","shape":"M0.05,0 L0.35,-0.3 L0.35,-0.75 L4.55,-0.75 L4.55,0.75 L0.35,0.75 L0.35,0.3 Z","size":400,"filled":true,"fill":"#ffffe4","stroke":"#222","strokeWidth":1,"opacity":1,"clip":false},"encoding":{"x":{"value":"width"},"y":{"field":"v","type":"quantitative"}}},
{"data":{"name":"slv"},"mark":{"type":"text","align":"left","baseline":"middle","dx":8,"fontSize":10,"font":"DejaVu Sans","color":"#000","clip":false},"encoding":{"x":{"value":"width"},"y":{"field":"v","type":"quantitative"},"text":{"field":"label"}}}
]
},
{
"width":1168,"height":32,
"data":{"name":"tl"},
"layer":[
{"mark":{"type":"rect","clip":true,"strokeWidth":1},
 "encoding":{
  "x":{"field":"s","type":"temporal","scale":{"type":"utc","domain":[{"year":2012,"month":6,"date":21,"utc":true},{"year":2016,"month":12,"date":31,"utc":true}]},"axis":null},
  "x2":{"field":"e"},
  "y":{"field":"r","type":"nominal","scale":{"domain":["q","y"],"paddingInner":0,"paddingOuter":0},"axis":null},
  "fill":{"field":"r","type":"nominal","scale":{"domain":["q","y"],"range":["#ffffff","#e9e9e9"]},"legend":null},
  "stroke":{"condition":{"test":"datum.r == 'q'","value":"#000000"},"value":"#8a8a8a"}}},
{"transform":[{"filter":"datum.r == 'q'"}],"mark":{"type":"text","clip":true,"fontSize":10,"font":"DejaVu Sans","color":"#111","baseline":"middle"},
 "encoding":{"x":{"field":"s","type":"temporal","timeUnit":"utcyearquarter","bandPosition":0.5},"y":{"field":"r","type":"nominal"},"text":{"field":"t"}}},
{"transform":[{"filter":"datum.r == 'y'"}],"mark":{"type":"text","clip":true,"fontSize":10,"font":"DejaVu Sans","color":"#111","baseline":"middle"},
 "encoding":{"x":{"field":"s","type":"temporal","timeUnit":"utcyear","bandPosition":0.5},"y":{"field":"r","type":"nominal"},"text":{"field":"t"}}}
]
}
]
}
],
"config":{
"view":{"stroke":"#000000","strokeWidth":1,"fill":"#ffffff"},
"axis":{"labelFont":"DejaVu Sans","labelFontSize":10,"labelColor":"#111","tickColor":"#000","domain":false,"labelOverlap":false},
"text":{"font":"DejaVu Sans"}
}
}
